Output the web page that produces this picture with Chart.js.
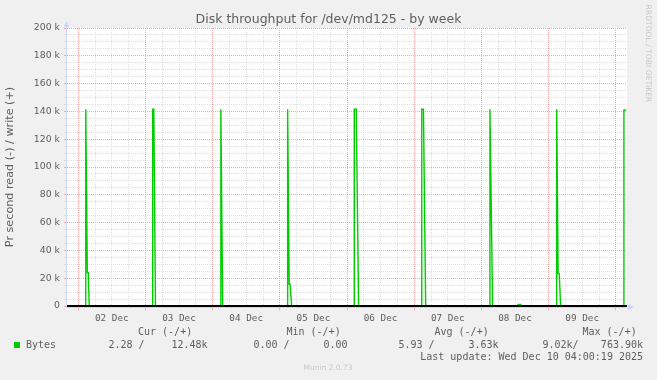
<!DOCTYPE html>
<html lang="en">
<head>
<meta charset="UTF-8">
<title>Disk throughput for /dev/md125 - by week</title>
<script src="https://cdn.jsdelivr.net/npm/chart.js@4.4.1/dist/chart.umd.min.js"></script>
<style>
  body { margin: 0; background: #f0f0f0; }
  canvas { display: block; }
</style>
</head>
<body>
<canvas id="disk-chart" width="657" height="380"></canvas>
<script>
// hours since Mon Dec 1 20:00 (left edge of the week graph)
const writeHours = [0,
  6.6, 6.7, 7.25, 7.6, 7.95,
  30.55, 30.6, 31.0, 31.6,
  54.9, 54.95, 55.6,
  78.75, 78.8, 79.35, 79.65, 80.25,
  102.55, 102.6, 103.3, 104.15,
  126.65, 126.7, 127.3, 128.1,
  151.0, 151.05, 152.0,
  161.0, 161.1, 162.0, 162.1,
  174.85, 174.9, 175.4, 175.8, 176.3,
  198.85, 198.9, 199.7];
const writeValues = [0,
  0, 141500, 24000, 24000, 0,
  0, 141500, 141500, 0,
  0, 141500, 0,
  0, 141500, 15600, 15600, 0,
  0, 141500, 141500, 0,
  0, 141500, 141500, 0,
  0, 141500, 0,
  0, 1200, 1200, 0,
  0, 141500, 23500, 23500, 0,
  0, 141000, 141000];
const dayLabels = ['02 Dec', '03 Dec', '04 Dec', '05 Dec', '06 Dec', '07 Dec', '08 Dec', '09 Dec'];
const yTickLabels = ['0', '20 k', '40 k', '60 k', '80 k', '100 k', '120 k', '140 k', '160 k', '180 k', '200 k'];
const legendHeaders = ['Cur (-/+)', 'Min (-/+)', 'Avg (-/+)', 'Max (-/+)'];
const legendRead = ['2.28 /', '0.00 /', '5.93 /', '9.02k/'];
const legendWrite = ['12.48k', '0.00', '3.63k', '763.90k'];
const lastUpdate = 'Last update: Wed Dec 10 04:00:19 2025';

const GREEN = '#00cc00';
const FONT = '#5e5e5e';
const MAJOR = 'rgb(242,168,168)';
const MINOR = 'rgb(222,222,222)';

const isMajorX = v => (v - 4) % 24 === 0;
const isMajorY = v => v % 20000 === 0;

// dotted grid, one dot every other pixel
function dottedGrid(chart) {
  const { ctx, chartArea: a, scales } = chart;
  const left = Math.round(a.left), right = Math.round(a.right);
  const top = Math.round(a.top), bottom = Math.round(a.bottom);
  ctx.save();
  [false, true].forEach(major => {
    ctx.fillStyle = major ? MAJOR : MINOR;
    scales.y.ticks.forEach(t => {
      if (isMajorY(t.value) !== major || t.value === 0) return;
      const py = Math.round(scales.y.getPixelForValue(t.value) - 0.5);
      for (let x = left; x < right; x += 2) ctx.fillRect(x, py, 1, 1);
    });
    scales.x.ticks.forEach(t => {
      if (isMajorX(t.value) !== major) return;
      const px = Math.round(scales.x.getPixelForValue(t.value) - 0.5);
      for (let y = top; y < bottom; y += 2) ctx.fillRect(px, y, 1, 1);
    });
  });
  ctx.restore();
}

const muninPlugin = {
  id: 'munin',
  beforeDraw(chart) {
    const { ctx, chartArea: a } = chart;
    ctx.save();
    ctx.fillStyle = '#f0f0f0';
    ctx.fillRect(0, 0, chart.width, chart.height);
    ctx.fillStyle = '#ffffff';
    ctx.fillRect(a.left, a.top, a.right - a.left, a.bottom - a.top);
    ctx.restore();
  },
  beforeDatasetsDraw(chart) {
    dottedGrid(chart);
  },
  afterDatasetsDraw(chart) {
    const { ctx, chartArea: a } = chart;
    const y0 = chart.scales.y.getPixelForValue(0);
    ctx.save();
    // zero line
    ctx.fillStyle = '#000000';
    ctx.fillRect(a.left, y0 - 1, a.right - a.left, 2);
    // axes + arrows
    ctx.fillStyle = '#cfd6f8';
    ctx.fillRect(a.left - 1, y0 + 1, a.right - a.left + 3, 1);
    ctx.fillRect(a.left - 1, a.top - 4, 1, y0 - a.top + 5);
    ctx.beginPath();
    ctx.moveTo(a.right + 1, y0 - 2);
    ctx.lineTo(a.right + 1, y0 + 4);
    ctx.lineTo(a.right + 7, y0 + 1);
    ctx.closePath();
    ctx.fill();
    ctx.beginPath();
    ctx.moveTo(a.left - 3.5, a.top - 1);
    ctx.lineTo(a.left + 2.5, a.top - 1);
    ctx.lineTo(a.left - 0.5, a.top - 7);
    ctx.closePath();
    ctx.fill();
    ctx.restore();
  },
  afterDraw(chart) {
    const { ctx, chartArea: a } = chart;
    ctx.save();
    ctx.fillStyle = FONT;
    ctx.textBaseline = 'middle';
    ctx.textAlign = 'center';
    ctx.font = '12.5px "DejaVu Sans"';
    ctx.fillText('Disk throughput for /dev/md125 - by week', 328.5, 19.5);

    ctx.save();
    ctx.translate(10.5, (a.top + a.bottom) / 2);
    ctx.rotate(-Math.PI / 2);
    ctx.font = '11.2px "DejaVu Sans"';
    ctx.fillText('Pr second read (-) / write (+)', 0, 0);
    ctx.restore();

    ctx.save();
    ctx.fillStyle = '#c8c8c8';
    ctx.translate(648, 53.5);
    ctx.rotate(Math.PI / 2);
    ctx.font = '7.6px "DejaVu Sans"';
    ctx.fillText('RRDTOOL / TOBI OETIKER', 0, 0);
    ctx.restore();

    ctx.fillStyle = '#c8c8c8';
    ctx.font = '7.5px "DejaVu Sans"';
    ctx.fillText('Munin 2.0.73', 328, 368.5);

    // legend
    ctx.fillStyle = FONT;
    ctx.textAlign = 'left';
    ctx.font = '10px "DejaVu Sans Mono"';
    const headerX = [138, 286.5, 434.5, 582.5];
    legendHeaders.forEach((t, i) => ctx.fillText(t, headerX[i], 332.5));
    const readX = [108.5, 253.5, 398.5, 542.5];
    legendRead.forEach((t, i) => ctx.fillText(t, readX[i], 345.5));
    ctx.textAlign = 'right';
    const writeEnd = [207.5, 347.5, 498.5, 643];
    legendWrite.forEach((t, i) => ctx.fillText(t, writeEnd[i], 345.5));
    ctx.fillText(lastUpdate, 643, 357.5);
    ctx.textAlign = 'left';
    ctx.fillText('Bytes', 26, 345.5);
    ctx.fillStyle = GREEN;
    ctx.fillRect(14, 342, 6, 6);
    ctx.restore();
  }
};

const points = writeHours.map((h, i) => ({ x: h, y: writeValues[i] }));

new Chart(document.getElementById('disk-chart'), {
  type: 'line',
  data: {
    datasets: [{
      label: 'Bytes',
      data: points,
      borderColor: GREEN,
      borderWidth: 1.4,
      pointRadius: 0,
      tension: 0,
      fill: false
    }]
  },
  options: {
    responsive: false,
    devicePixelRatio: 1,
    animation: false,
    layout: { padding: { left: 0, right: 30, top: 28, bottom: 0 } },
    plugins: { legend: { display: false }, tooltip: { enabled: false } },
    scales: {
      x: {
        type: 'linear',
        min: 0,
        max: 200,
        afterBuildTicks: s => {
          const t = [];
          for (let v = 4; v <= 200; v += 6) t.push({ value: v });
          s.ticks = t;
        },
        afterFit: s => { s.height = 74; },
        grid: {
          drawOnChartArea: false,
          tickColor: c => (isMajorX(c.tick.value) ? MAJOR : 'rgba(0,0,0,0)'),
          tickLength: 4,
          lineWidth: 1
        },
        border: { display: false },
        ticks: {
          autoSkip: false,
          maxRotation: 0,
          padding: 3,
          color: FONT,
          font: { family: 'DejaVu Sans Mono', size: 9.33 },
          callback: v => ((v - 16) % 24 === 0 ? dayLabels[(v - 16) / 24] : '')
        }
      },
      y: {
        min: 0,
        max: 200000,
        afterBuildTicks: s => {
          const t = [];
          for (let v = 0; v <= 200000; v += 5000) t.push({ value: v });
          s.ticks = t;
        },
        afterFit: s => { s.width = 67; },
        grid: {
          drawOnChartArea: false,
          tickColor: c => (isMajorY(c.tick.value) ? MAJOR : MINOR),
          tickLength: 3,
          lineWidth: 1
        },
        border: { display: false },
        ticks: {
          autoSkip: false,
          padding: 4,
          color: FONT,
          font: { family: 'DejaVu Sans', size: 9.33 },
          callback: v => (isMajorY(v) ? yTickLabels[v / 20000] : '')
        }
      }
    }
  },
  plugins: [muninPlugin]
});
</script>
</body>
</html>
